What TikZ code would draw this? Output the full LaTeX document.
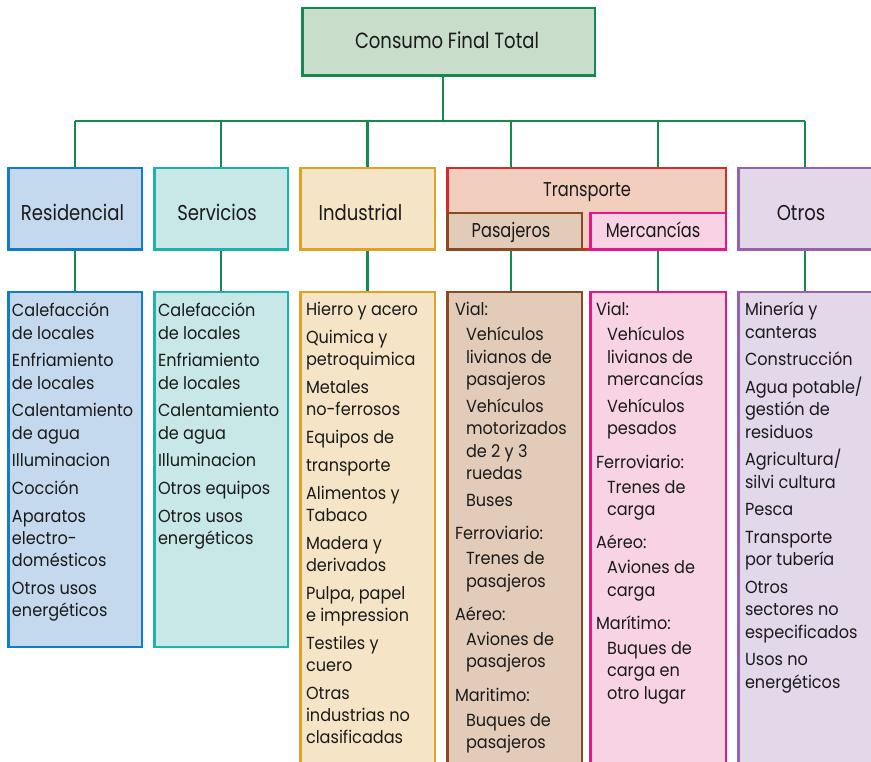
\documentclass[tikz,border=0pt]{standalone}
\usepackage{fontspec}
\setmainfont{Poppins}
\newfontfamily\hdrfont{Poppins}[FakeStretch=0.84]
\newfontfamily\subfont{Poppins}[FakeStretch=0.81]
\newfontfamily\topfont{Poppins}[FakeStretch=0.82]
\newfontfamily\lowfont{Poppins}[FakeStretch=0.92]
\usetikzlibrary{backgrounds}
\definecolor{topfill}{HTML}{C9DDCB}
\definecolor{topdraw}{HTML}{138A4E}
\definecolor{conncol}{HTML}{138A4E}
\definecolor{resfill}{HTML}{C5D9EE}
\definecolor{resdraw}{HTML}{0F7EC6}
\definecolor{serfill}{HTML}{C8E7E7}
\definecolor{serdraw}{HTML}{1DB2AC}
\definecolor{indfill}{HTML}{F5E4C5}
\definecolor{inddraw}{HTML}{E0A125}
\definecolor{trafill}{HTML}{F2CEBE}
\definecolor{tradraw}{HTML}{D52B30}
\definecolor{pasfill}{HTML}{E2CCB9}
\definecolor{pasdraw}{HTML}{8B4A1F}
\definecolor{merfill}{HTML}{F8D3E4}
\definecolor{merdraw}{HTML}{E7168A}
\definecolor{otrfill}{HTML}{E3D7EA}
\definecolor{otrdraw}{HTML}{9A60AD}
\definecolor{txt}{HTML}{1A1A1A}
\newcommand{\gp}{\\[5.4pt]}
\newcommand{\sbi}{\\[2.7pt]}
\newcommand{\gps}{\\[4.8pt]}
\newcommand{\grp}{\\[11pt]}
\newcommand{\ind}{\hspace*{11pt}}
\newcommand{\lowtext}[1]{\parbox[t]{128pt}{\raggedright\lowfont\fontsize{17.5}{22.3}\selectfont #1}}
\begin{document}
\begin{tikzpicture}[x=1pt,y=-1pt,
  every node/.style={inner sep=0pt,outer sep=0pt,text=txt},
  cbox/.style 2 args={draw=#1,fill=#2,line width=2.5pt},
  hdr/.style={font=\hdrfont\fontsize{21.5}{24}\selectfont,text height=24pt,text depth=0pt},
  subhdr/.style={font=\subfont\fontsize{20}{22}\selectfont,text height=13pt,text depth=0pt},
  lowtxt/.style={anchor=base west},
  conn/.style={draw=conncol,line width=2.6pt}]
\clip (0,0) rectangle (871,762);
% top
\node[cbox={topdraw}{topfill},font=\topfont\fontsize{22}{24}\selectfont,text height=14pt,text depth=0pt,minimum width=292.5pt,minimum height=67.5pt] (top) at (448.5,42) {Consumo Final Total\hspace*{3pt}};
% headers
\node[cbox={resdraw}{resfill},hdr,minimum width=133.5pt,minimum height=81.5pt] (res) at (75,209) {Residencial\hspace*{5pt}};
\node[cbox={serdraw}{serfill},hdr,minimum width=133.5pt,minimum height=81.5pt] (ser) at (221,209) {Servicios\hspace*{8pt}};
\node[cbox={inddraw}{indfill},hdr,minimum width=134.5pt,minimum height=81.5pt] (ind) at (367.5,209) {Industrial\hspace*{14pt}};
\node[cbox={tradraw}{trafill},minimum width=278.5pt,minimum height=81.5pt] (tra) at (586.5,209) {};
\node[font=\subfont\fontsize{20}{22}\selectfont,anchor=base] (tratxt) at (587,197) {Transporte};
\node[cbox={pasdraw}{pasfill},subhdr,minimum width=134.5pt,minimum height=36.5pt] (pas) at (514.5,231.5) {Pasajeros\hspace*{7pt}};
\node[cbox={merdraw}{merfill},subhdr,minimum width=135.5pt,minimum height=36.5pt] (mer) at (658,231.5) {Mercancías\hspace*{10pt}};
\node[cbox={otrdraw}{otrfill},hdr,minimum width=133.5pt,minimum height=81.5pt] (otr) at (805,209) {Otros\hspace*{8pt}};
% lower boxes
\node[cbox={resdraw}{resfill},minimum width=133.5pt,minimum height=354.5pt] (resL) at (75,469.5) {};
\node[cbox={serdraw}{serfill},minimum width=133.5pt,minimum height=354.5pt] (serL) at (221,469.5) {};
\node[cbox={inddraw}{indfill},minimum width=134.5pt,minimum height=497pt] (indL) at (367.5,540.5) {};
\node[cbox={pasdraw}{pasfill},minimum width=134.5pt,minimum height=497pt] (pasL) at (514.5,540.5) {};
\node[cbox={merdraw}{merfill},minimum width=135.5pt,minimum height=497pt] (merL) at (658,540.5) {};
\node[cbox={otrdraw}{otrfill},minimum width=133.5pt,minimum height=497pt] (otrL) at (805,540.5) {};
% texts
\node[lowtxt] (resT) at (12,317) {\lowtext{Calefacción\\de locales\gp Enfriamiento\\de locales\gp Calentamiento\\de agua\gp Illuminacion\gp Cocción\gp Aparatos\\electro-\\domésticos\gp Otros usos\\energéticos}};
\node[lowtxt] (serT) at (158,317) {\lowtext{Calefacción\\de locales\gp Enfriamiento\\de locales\gp Calentamiento\\de agua\gp Illuminacion\gp Otros equipos\gp Otros usos\\energéticos}};
\node[lowtxt] (indT) at (306,316) {\lowtext{Hierro y acero\gp Quimica y\\petroquimica\gp Metales\\no-ferrosos\gp Equipos de\gp transporte\gp Alimentos y\\Tabaco\gp Madera y\\derivados\gp Pulpa, papel\\e impression\gp Testiles y\\cuero\gp Otras\\industrias no\\clasificadas}};
\node[lowtxt] (pasT) at (455,316) {\lowtext{Vial:\sbi \ind Vehículos\\ \ind livianos de\\ \ind pasajeros\gps \ind Vehículos\\ \ind motorizados\\ \ind de 2 y 3\\ \ind ruedas\gps \ind Buses\grp Ferroviario:\sbi \ind Trenes de\\ \ind pasajeros\grp Aéreo:\sbi \ind Aviones de\\ \ind pasajeros\grp Maritimo:\sbi \ind Buques de\\ \ind pasajeros}};
\node[lowtxt] (merT) at (596,316) {\lowtext{Vial:\sbi \ind Vehículos\\ \ind livianos de\\ \ind mercancías\gps \ind Vehículos\\ \ind pesados\grp Ferroviario:\sbi \ind Trenes de\\ \ind carga\grp Aéreo:\sbi \ind Aviones de\\ \ind carga\grp Marítimo:\sbi \ind Buques de\\ \ind carga en\\ \ind otro lugar}};
\node[lowtxt] (otrT) at (745,316) {\lowtext{Minería y\\canteras\gp Construcción\gp Agua potable/\\gestión de\\residuos\gp Agricultura/\\silvi cultura\gp Pesca\gp Transporte\\por tubería\gp Otros\\sectores no\\especificados\gp Usos no\\energéticos}};
% connectors
\coordinate (bus) at (443,121);
\coordinate (pasx) at (511,0);
\begin{scope}[on background layer]
\draw[conn] (bus |- top.south) -- (bus);
\draw[conn] (res.north |- bus) -- (otr.north |- bus);
\draw[conn] (res.north |- bus) -- (res.north);
\draw[conn] (ser.north |- bus) -- (ser.north);
\draw[conn] (ind.north |- bus) -- (ind.north);
\draw[conn] (pasx |- bus) -- (pasx |- tra.north);
\draw[conn] (mer.north |- bus) -- (mer.north |- tra.north);
\draw[conn] (otr.north |- bus) -- (otr.north);
\draw[conn] (res.south) -- (resL.north);
\draw[conn] (ser.south) -- (serL.north);
\draw[conn] (ind.south) -- (indL.north);
\draw[conn] (pasx |- pas.south) -- (pasx |- pasL.north);
\draw[conn] (mer.south) -- (merL.north);
\draw[conn] (otr.south) -- (otrL.north);
\end{scope}
\end{tikzpicture}
\end{document}
